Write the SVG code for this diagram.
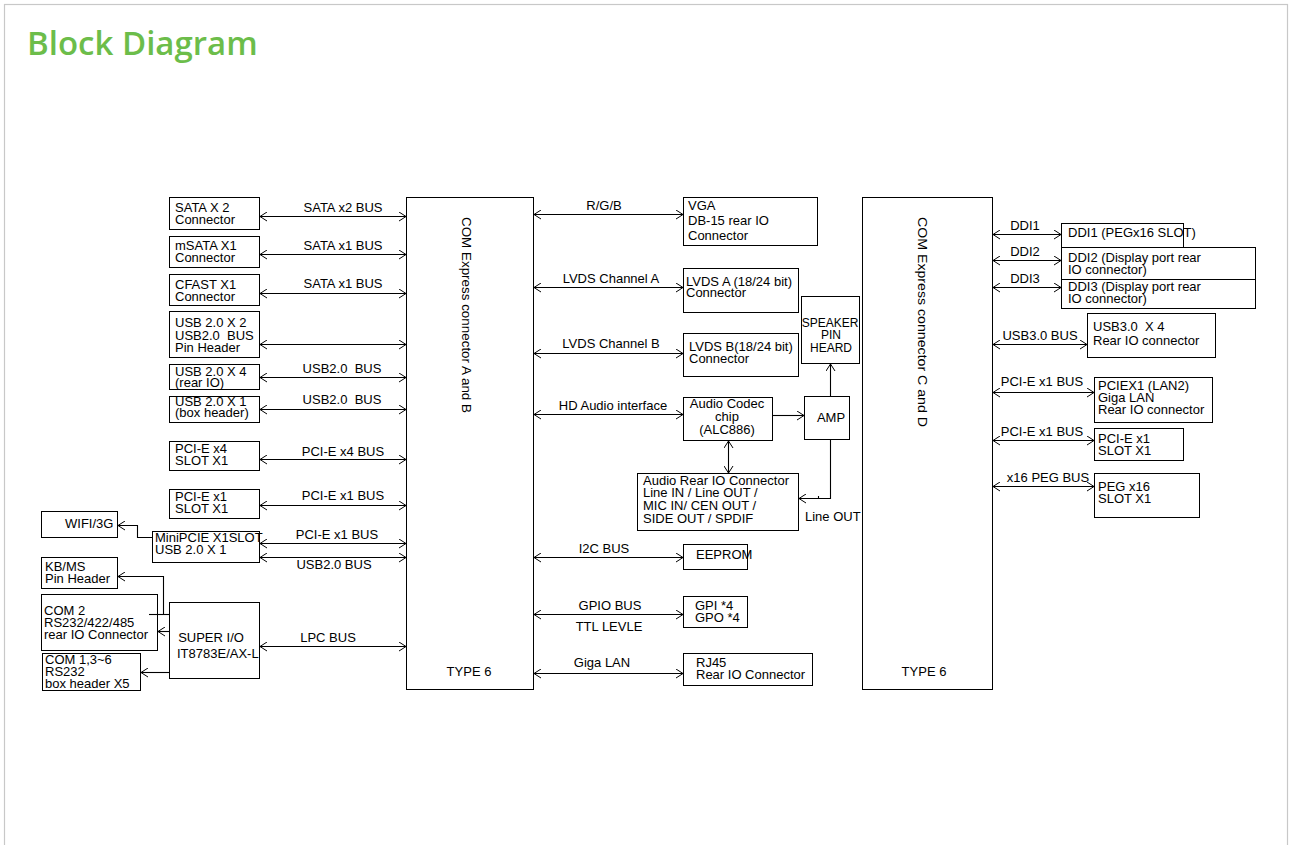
<svg xmlns="http://www.w3.org/2000/svg" width="1290" height="845" viewBox="0 0 1290 845">
<defs>
<style>
.bx{fill:#fff;stroke:#000;stroke-width:1}
.t{font-family:"Liberation Sans",Arial,sans-serif;font-size:13px;fill:#000;white-space:pre}
.m{text-anchor:middle}
.ln{fill:none;stroke:#000;stroke-width:1.1}
.title{font-family:"Open Sans","Noto Sans",sans-serif;font-size:33px;font-weight:600;fill:#6cbd4a}
</style>
<marker id="ah" viewBox="0 0 7 10" refX="7" refY="5" markerWidth="7" markerHeight="10" markerUnits="userSpaceOnUse" orient="auto-start-reverse">
<path d="M0,0.5 L7,5 L0,9.5" fill="none" stroke="#000" stroke-width="1"/>
</marker>
</defs>
<rect x="0" y="0" width="1290" height="845" fill="#fff"/>
<rect x="4.5" y="4.5" width="1283" height="860" fill="none" stroke="#c8c8c8" stroke-width="1.2"/>
<text class="title" x="27" y="55">Block Diagram</text>

<g id="comAB">
<rect class="bx" x="406.5" y="197.5" width="127" height="492"/>
<text class="t" transform="translate(462,217) rotate(90)" textLength="196" lengthAdjust="spacingAndGlyphs">COM Express connector A and B</text>
<text class="t m" x="469" y="676">TYPE 6</text>
</g>
<g id="comCD">
<rect class="bx" x="862.5" y="197.5" width="130" height="492"/>
<text class="t" transform="translate(918,217) rotate(90)" textLength="210" lengthAdjust="spacingAndGlyphs">COM Express connector C and D</text>
<text class="t m" x="924" y="676">TYPE 6</text>
</g>

<g id="sata2"><rect class="bx" x="169.5" y="197.5" width="90" height="32"/><text class="t" x="175" y="212">SATA X 2</text><text class="t" x="175" y="224">Connector</text></g>
<g id="msata"><rect class="bx" x="169.5" y="236.5" width="90" height="31"/><text class="t" x="175" y="250">mSATA X1</text><text class="t" x="175" y="262">Connector</text></g>
<g id="cfast"><rect class="bx" x="169.5" y="274.5" width="90" height="31"/><text class="t" x="175" y="289">CFAST X1</text><text class="t" x="175" y="301">Connector</text></g>
<g id="usb2x2"><rect class="bx" x="169.5" y="311.5" width="90" height="46"/><text class="t" x="175" y="327">USB 2.0 X 2</text><text class="t" x="175" y="340">USB2.0  BUS</text><text class="t" x="175" y="352">Pin Header</text></g>
<g id="usb2x4"><rect class="bx" x="169.5" y="364.5" width="90" height="25"/><text class="t" x="175" y="376">USB 2.0 X 4</text><text class="t" x="175" y="387">(rear IO)</text></g>
<g id="usb2x1"><rect class="bx" x="169.5" y="396.5" width="90" height="26"/><text class="t" x="175" y="406">USB 2.0 X 1</text><text class="t" x="175" y="417">(box header)</text></g>
<g id="pcie4"><rect class="bx" x="169.5" y="441.5" width="90" height="29"/><text class="t" x="175" y="453">PCI-E x4</text><text class="t" x="175" y="465">SLOT X1</text></g>
<g id="pcie1"><rect class="bx" x="169.5" y="489.5" width="90" height="29"/><text class="t" x="175" y="501">PCI-E x1</text><text class="t" x="175" y="513">SLOT X1</text></g>
<g id="wifi"><rect class="bx" x="41.5" y="511.5" width="76" height="26"/><text class="t" x="65" y="528">WIFI/3G</text></g>
<g id="minipcie"><rect class="bx" x="152.5" y="531.5" width="107" height="31"/><text class="t" x="155" y="542">MiniPCIE X1SLOT</text><text class="t" x="155" y="554">USB 2.0 X 1</text></g>
<g id="kbms"><rect class="bx" x="41.5" y="557.5" width="76" height="31"/><text class="t" x="45" y="571">KB/MS</text><text class="t" x="45" y="583">Pin Header</text></g>
<g id="com2"><rect class="bx" x="41.5" y="594.5" width="116" height="56"/><text class="t" x="44" y="615">COM 2</text><text class="t" x="44" y="627">RS232/422/485</text><text class="t" x="44" y="639">rear IO Connector</text></g>
<g id="com1"><rect class="bx" x="42.5" y="653.5" width="98" height="37"/><text class="t" x="45" y="664">COM 1,3~6</text><text class="t" x="45" y="676">RS232</text><text class="t" x="45" y="688">box header X5</text></g>
<g id="superio"><rect class="bx" x="169.5" y="602.5" width="90" height="76"/><text class="t m" x="211" y="642">SUPER I/O</text><text class="t" x="177" y="658">IT8783E/AX-L</text></g>

<g id="vga"><rect class="bx" x="683.5" y="197.5" width="134" height="48"/><text class="t" x="688" y="210">VGA</text><text class="t" x="688" y="225">DB-15 rear IO</text><text class="t" x="688" y="240">Connector</text></g>
<g id="lvdsa"><rect class="bx" x="683.5" y="268.5" width="115" height="44"/><text class="t" x="686" y="286">LVDS A (18/24 bit)</text><text class="t" x="686" y="297">Connector</text></g>
<g id="lvdsb"><rect class="bx" x="683.5" y="333.5" width="115" height="43"/><text class="t" x="689" y="351">LVDS B(18/24 bit)</text><text class="t" x="689" y="363">Connector</text></g>
<g id="speaker"><rect class="bx" x="801.5" y="296.5" width="58" height="67"/><text class="t m" x="830" y="327" style="font-size:12px">SPEAKER</text><text class="t m" x="831" y="339" style="font-size:12px">PIN</text><text class="t m" x="831" y="352" style="font-size:12px">HEARD</text></g>
<g id="codec"><rect class="bx" x="683.5" y="397.5" width="89" height="43"/><text class="t m" x="727" y="408">Audio Codec</text><text class="t m" x="727" y="421">chip</text><text class="t m" x="727" y="434">(ALC886)</text></g>
<g id="amp"><rect class="bx" x="804.5" y="396.5" width="45" height="43"/><text class="t m" x="831" y="422">AMP</text></g>
<g id="audiorear"><rect class="bx" x="637.5" y="473.5" width="161" height="57"/><text class="t" x="643" y="485">Audio Rear IO Connector</text><text class="t" x="643" y="497">Line IN / Line OUT /</text><text class="t" x="643" y="510">MIC IN/ CEN OUT /</text><text class="t" x="643" y="523">SIDE OUT / SPDIF</text></g>
<g id="eeprom"><rect class="bx" x="683.5" y="544.5" width="64" height="25"/><text class="t" x="696" y="559">EEPROM</text></g>
<g id="gpio"><rect class="bx" x="683.5" y="596.5" width="64" height="31"/><text class="t" x="695" y="610">GPI *4</text><text class="t" x="695" y="622">GPO *4</text></g>
<g id="rj45"><rect class="bx" x="683.5" y="653.5" width="129" height="32"/><text class="t" x="696" y="667">RJ45</text><text class="t" x="696" y="679">Rear IO Connector</text></g>

<g id="ddi1"><rect class="bx" x="1061.5" y="223.5" width="122" height="24"/><text class="t" x="1068" y="237">DDI1 (PEGx16 SLOT)</text></g>
<g id="ddi2"><rect class="bx" x="1061.5" y="247.5" width="194" height="32"/><text class="t" x="1068" y="262">DDI2 (Display port rear</text><text class="t" x="1068" y="274">IO connector)</text></g>
<g id="ddi3"><rect class="bx" x="1061.5" y="279.5" width="194" height="29"/><text class="t" x="1068" y="291">DDI3 (Display port rear</text><text class="t" x="1068" y="303">IO connector)</text></g>
<g id="usb3"><rect class="bx" x="1087.5" y="313.5" width="128" height="44"/><text class="t" x="1093" y="331">USB3.0  X 4</text><text class="t" x="1093" y="345">Rear IO connector</text></g>
<g id="lan2"><rect class="bx" x="1094.5" y="377.5" width="118" height="45"/><text class="t" x="1098" y="390">PCIEX1 (LAN2)</text><text class="t" x="1098" y="402">Giga LAN</text><text class="t" x="1098" y="414">Rear IO connector</text></g>
<g id="pcie1r"><rect class="bx" x="1094.5" y="428.5" width="89" height="32"/><text class="t" x="1098" y="443">PCI-E x1</text><text class="t" x="1098" y="455">SLOT X1</text></g>
<g id="peg"><rect class="bx" x="1094.5" y="473.5" width="105" height="44"/><text class="t" x="1098" y="491">PEG x16</text><text class="t" x="1098" y="503">SLOT X1</text></g>

<g id="connectors">
<g marker-start="url(#ah)" marker-end="url(#ah)" class="ln">
<line class="ln" x1="260" y1="216.5" x2="406" y2="216.5"/>
<line class="ln" x1="260" y1="254.5" x2="406" y2="254.5"/>
<line class="ln" x1="260" y1="293.5" x2="406" y2="293.5"/>
<line class="ln" x1="260" y1="344.5" x2="406" y2="344.5"/>
<line class="ln" x1="260" y1="377.5" x2="406" y2="377.5"/>
<line class="ln" x1="260" y1="409.5" x2="406" y2="409.5"/>
<line class="ln" x1="260" y1="459.5" x2="406" y2="459.5"/>
<line class="ln" x1="260" y1="505.5" x2="406" y2="505.5"/>
<line class="ln" x1="260" y1="543.5" x2="406" y2="543.5"/>
<line class="ln" x1="260" y1="557.5" x2="406" y2="557.5"/>
<line class="ln" x1="260" y1="646.5" x2="406" y2="646.5"/>
<line class="ln" x1="534" y1="214.5" x2="683" y2="214.5"/>
<line class="ln" x1="534" y1="287.5" x2="683" y2="287.5"/>
<line class="ln" x1="534" y1="353.5" x2="683" y2="353.5"/>
<line class="ln" x1="534" y1="414.5" x2="683" y2="414.5"/>
<line class="ln" x1="534" y1="557.5" x2="683" y2="557.5"/>
<line class="ln" x1="534" y1="614.5" x2="683" y2="614.5"/>
<line class="ln" x1="534" y1="673.5" x2="683" y2="673.5"/>
<line class="ln" x1="728.5" y1="441" x2="728.5" y2="473"/>
<line class="ln" x1="993" y1="234.5" x2="1061" y2="234.5"/>
<line class="ln" x1="993" y1="260.5" x2="1061" y2="260.5"/>
<line class="ln" x1="993" y1="287.5" x2="1061" y2="287.5"/>
<line class="ln" x1="993" y1="344.5" x2="1087" y2="344.5"/>
<line class="ln" x1="993" y1="392.5" x2="1094" y2="392.5"/>
<line class="ln" x1="993" y1="440.5" x2="1094" y2="440.5"/>
<line class="ln" x1="993" y1="486.5" x2="1094" y2="486.5"/>
</g>
<g marker-end="url(#ah)" class="ln">
<polyline class="ln" points="152,537.5 137.5,537.5 137.5,525.5 118,525.5"/>
<polyline class="ln" points="163.5,614.5 163.5,576.5 118,576.5"/>
<line class="ln" x1="169" y1="631.5" x2="158" y2="631.5"/>
<line class="ln" x1="169" y1="672.5" x2="141" y2="672.5"/>
<line class="ln" x1="773" y1="415.5" x2="804" y2="415.5"/>
<line class="ln" x1="830.5" y1="396" x2="830.5" y2="364"/>
<polyline class="ln" points="830.5,440 830.5,498.5 799,498.5"/>
</g>
<line class="ln" x1="149" y1="614.5" x2="170" y2="614.5"/>
<line class="ln" x1="818.5" y1="496" x2="818.5" y2="498.5"/>
</g>

<g id="labels">
<text class="t m" x="343" y="212">SATA x2 BUS</text>
<text class="t m" x="343" y="250">SATA x1 BUS</text>
<text class="t m" x="343" y="288">SATA x1 BUS</text>
<text class="t m" x="342" y="373">USB2.0  BUS</text>
<text class="t m" x="342" y="404">USB2.0  BUS</text>
<text class="t m" x="343" y="456">PCI-E x4 BUS</text>
<text class="t m" x="343" y="500">PCI-E x1 BUS</text>
<text class="t m" x="337" y="539">PCI-E x1 BUS</text>
<text class="t m" x="334" y="569">USB2.0 BUS</text>
<text class="t m" x="328" y="642">LPC BUS</text>
<text class="t m" x="604" y="210">R/G/B</text>
<text class="t m" x="611" y="283">LVDS Channel A</text>
<text class="t m" x="611" y="348">LVDS Channel B</text>
<text class="t m" x="613" y="410">HD Audio interface</text>
<text class="t m" x="604" y="553">I2C BUS</text>
<text class="t m" x="610" y="610">GPIO BUS</text>
<text class="t m" x="609" y="631">TTL LEVLE</text>
<text class="t m" x="602" y="667">Giga LAN</text>
<text class="t" x="805" y="521">Line OUT</text>
<text class="t m" x="1025" y="230">DDI1</text>
<text class="t m" x="1025" y="256">DDI2</text>
<text class="t m" x="1025" y="283">DDI3</text>
<text class="t m" x="1040" y="340">USB3.0 BUS</text>
<text class="t m" x="1042" y="386">PCI-E x1 BUS</text>
<text class="t m" x="1042" y="436">PCI-E x1 BUS</text>
<text class="t m" x="1048" y="482">x16 PEG BUS</text>
</g>
</svg>
